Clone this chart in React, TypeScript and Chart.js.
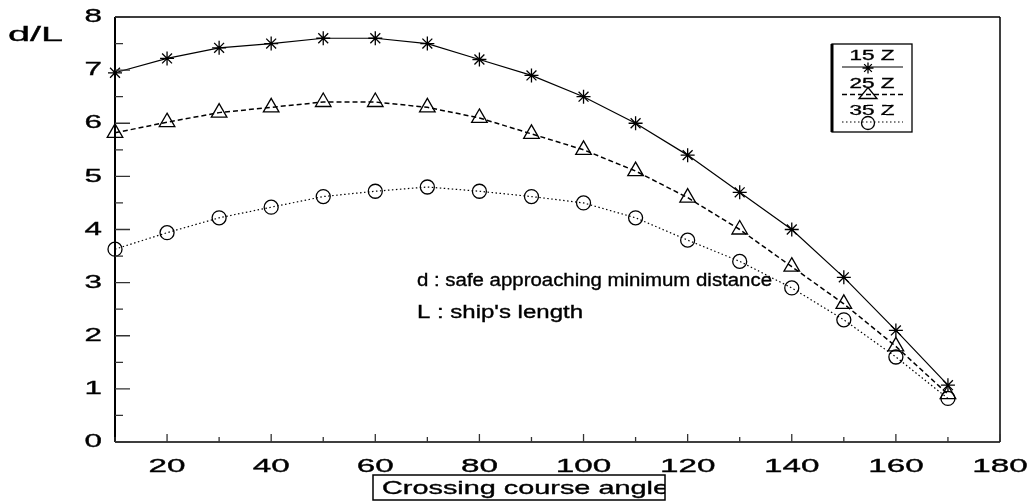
import React, { useEffect, useRef } from "react";
import { Chart, registerables } from "chart.js";

Chart.register(...registerables);

const angles = [10, 20, 30, 40, 50, 60, 70, 80, 90, 100, 110, 120, 130, 140, 150, 160, 170];
const series15Z = [6.95, 7.22, 7.42, 7.5, 7.6, 7.6, 7.5, 7.2, 6.9, 6.5, 6.0, 5.4, 4.7, 4.0, 3.1, 2.1, 1.07];
const series25Z = [5.82, 6.02, 6.2, 6.3, 6.4, 6.4, 6.3, 6.1, 5.8, 5.5, 5.1, 4.6, 4.0, 3.3, 2.6, 1.8, 0.9];
const series35Z = [3.63, 3.94, 4.22, 4.42, 4.62, 4.72, 4.8, 4.72, 4.62, 4.5, 4.22, 3.8, 3.4, 2.9, 2.3, 1.6, 0.82];
const seriesNames = ["15 Z", "25 Z", "35 Z"];
const xTickLabels = [20, 40, 60, 80, 100, 120, 140, 160, 180];
const xMinorTicks = [10, 30, 50, 70, 90, 110, 130, 150, 170];
const yTickLabels = [0, 1, 2, 3, 4, 5, 6, 7, 8];
const yMinorTicks = [0.5, 1.5, 2.5, 3.5, 4.5, 5.5, 6.5, 7.5];
const yAxisTitle = "d/L";
const xAxisTitle = "Crossing course angle";
const noteLines = ["d : safe approaching minimum distance", "L : ship's length"];

const FONT = '"Liberation Sans", Arial, sans-serif';

function drawStretched(
  ctx: CanvasRenderingContext2D,
  text: string,
  x: number,
  y: number,
  size: number,
  sx: number,
  align: "left" | "center" | "right"
) {
  ctx.save();
  ctx.font = `${size}px ${FONT}`;
  ctx.textBaseline = "middle";
  ctx.textAlign = "left";
  const w = ctx.measureText(text).width * sx;
  const left = align === "center" ? x - w / 2 : align === "right" ? x - w : x;
  ctx.translate(left, y);
  ctx.scale(sx, 1);
  ctx.fillStyle = "#000";
  ctx.strokeStyle = "#000";
  ctx.lineWidth = 0.35;
  ctx.fillText(text, 0, 0);
  ctx.strokeText(text, 0, 0);
  ctx.restore();
}

function drawFit(
  ctx: CanvasRenderingContext2D,
  text: string,
  x: number,
  y: number,
  size: number,
  width: number
) {
  ctx.save();
  ctx.font = `${size}px ${FONT}`;
  const w = ctx.measureText(text).width;
  ctx.restore();
  drawStretched(ctx, text, x, y, size, width / w, "left");
}

function marker(ctx: CanvasRenderingContext2D, kind: string, x: number, y: number) {
  ctx.save();
  ctx.strokeStyle = "#000";
  ctx.lineWidth = 1.3;
  ctx.setLineDash([]);
  ctx.beginPath();
  if (kind === "star") {
    const r = 5.5;
    ctx.moveTo(x - r, y);
    ctx.lineTo(x + r, y);
    ctx.moveTo(x, y - r);
    ctx.lineTo(x, y + r);
    ctx.moveTo(x - r * 0.7, y - r * 0.7);
    ctx.lineTo(x + r * 0.7, y + r * 0.7);
    ctx.moveTo(x - r * 0.7, y + r * 0.7);
    ctx.lineTo(x + r * 0.7, y - r * 0.7);
  } else if (kind === "triangle") {
    ctx.moveTo(x, y - 8);
    ctx.lineTo(x + 9, y + 3);
    ctx.lineTo(x - 9, y + 3);
    ctx.closePath();
  } else {
    ctx.arc(x, y, 6.5, 0, Math.PI * 2);
  }
  ctx.stroke();
  ctx.restore();
}

const decorPlugin = {
  id: "decor",
  afterDraw(chart: any) {
    const ctx: CanvasRenderingContext2D = chart.ctx;
    const xs = chart.scales.x;
    const ys = chart.scales.y;
    const { left, right, top, bottom } = chart.chartArea;

    ctx.save();
    ctx.strokeStyle = "#000";
    ctx.lineWidth = 1.5;
    ctx.beginPath();
    ctx.moveTo(left, top);
    ctx.lineTo(right, top);
    ctx.moveTo(right, top);
    ctx.lineTo(right, bottom);
    ctx.moveTo(left, bottom);
    ctx.lineTo(right, bottom);
    ctx.stroke();
    ctx.lineWidth = 2;
    ctx.beginPath();
    ctx.moveTo(left, top);
    ctx.lineTo(left, bottom);
    ctx.stroke();

    ctx.strokeStyle = "#333";
    ctx.lineWidth = 1.3;
    ctx.beginPath();
    for (const v of yTickLabels) {
      const p = ys.getPixelForValue(v);
      ctx.moveTo(left, p);
      ctx.lineTo(left + 15, p);
    }
    for (const v of yMinorTicks) {
      const p = ys.getPixelForValue(v);
      ctx.moveTo(left, p);
      ctx.lineTo(left + 8, p);
    }
    for (const v of xTickLabels) {
      const p = xs.getPixelForValue(v);
      ctx.moveTo(p, bottom);
      ctx.lineTo(p, bottom - 8);
    }
    for (const v of xMinorTicks) {
      const p = xs.getPixelForValue(v);
      ctx.moveTo(p, bottom);
      ctx.lineTo(p, bottom - 5);
    }
    ctx.stroke();
    ctx.restore();

    for (const v of yTickLabels) {
      drawStretched(ctx, String(v), left - 13, ys.getPixelForValue(v), 19, 1.65, "right");
    }
    for (const v of xTickLabels) {
      drawStretched(ctx, String(v), xs.getPixelForValue(v), bottom + 25, 19, 1.75, "center");
    }

    drawFit(ctx, yAxisTitle, 8, 35, 21, 55);

    drawFit(ctx, noteLines[0], 417, 281, 18, 355);
    drawFit(ctx, noteLines[1], 417, 313, 18, 166);

    ctx.save();
    const bx = 373, by = 475, bw = 292, bh = 25;
    ctx.strokeStyle = "#000";
    ctx.lineWidth = 1.5;
    ctx.strokeRect(bx, by, bw, bh);
    ctx.beginPath();
    ctx.rect(bx, by, bw, bh);
    ctx.clip();
    drawFit(ctx, xAxisTitle, 382, by + bh / 2 + 1, 19, 287);
    ctx.restore();

    ctx.save();
    const lx = 832, ly = 44, lw = 80, lh = 88;
    ctx.strokeStyle = "#000";
    ctx.lineWidth = 1.3;
    ctx.strokeRect(lx, ly, lw, lh);
    ctx.lineWidth = 3;
    ctx.beginPath();
    ctx.moveTo(lx, ly);
    ctx.lineTo(lx, ly + lh);
    ctx.stroke();
    const dashes = [[], [5, 3], [1.5, 2.5]];
    const kinds = ["star", "triangle", "circle"];
    for (let i = 0; i < 3; i++) {
      const ty = 56 + i * 27.5;
      drawStretched(ctx, seriesNames[i], 872, ty, 15, 1.5, "center");
      const lyy = ty + 11;
      ctx.lineWidth = i === 1 ? 1.5 : 1.2;
      ctx.setLineDash(dashes[i]);
      ctx.beginPath();
      ctx.moveTo(842, lyy);
      ctx.lineTo(903, lyy);
      ctx.stroke();
      marker(ctx, kinds[i], 868, lyy + 1);
    }
    ctx.restore();
  },
};

export default function App() {
  const ref = useRef<HTMLCanvasElement>(null);
  useEffect(() => {
    if (!ref.current) return;
    const mk = (vals: number[]) => angles.map((a, i) => ({ x: a, y: vals[i] }));
    const common = {
      borderColor: "#000",
      pointBorderColor: "#000",
      pointBackgroundColor: "rgba(0,0,0,0)",
      pointBorderWidth: 1.3,
      tension: 0,
      clip: false as any,
      fill: false,
    };
    const chart = new Chart(ref.current, {
      type: "line",
      data: {
        datasets: [
          {
            ...common,
            label: seriesNames[0],
            data: mk(series15Z),
            borderWidth: 1.2,
            pointStyle: "star",
            pointRadius: 7,
          },
          {
            ...common,
            label: seriesNames[1],
            data: mk(series25Z),
            borderWidth: 1.5,
            borderDash: [5, 3],
            pointStyle: "triangle",
            pointRadius: 9,
          },
          {
            ...common,
            label: seriesNames[2],
            data: mk(series35Z),
            borderWidth: 1.2,
            borderDash: [1.5, 2.5],
            pointStyle: "circle",
            pointRadius: 7,
          },
        ],
      },
      options: {
        animation: false,
        responsive: false,
        devicePixelRatio: 1,
        layout: { padding: { left: 115, right: 33, top: 17, bottom: 59 } },
        plugins: { legend: { display: false }, tooltip: { enabled: false }, title: { display: false } },
        scales: {
          x: { type: "linear", min: 10, max: 180, display: false },
          y: { type: "linear", min: 0, max: 8, display: false },
        },
      },
      plugins: [decorPlugin],
    });
    return () => chart.destroy();
  }, []);
  return (
    <div style={{ position: "absolute", left: 0, top: 0, width: 1033, height: 501, background: "#fff" }}>
      <canvas ref={ref} width={1033} height={501} style={{ display: "block" }} />
    </div>
  );
}
